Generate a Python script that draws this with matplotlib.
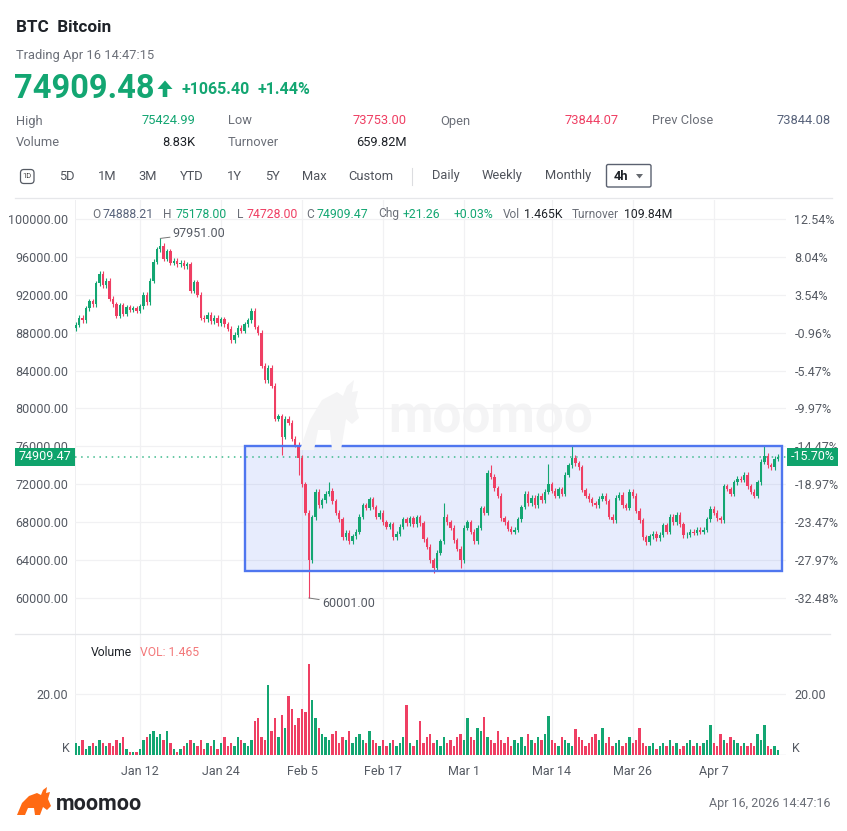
import matplotlib
matplotlib.use('Agg')
import matplotlib.pyplot as plt
import matplotlib.dates as mdates
import matplotlib.ticker as mticker
from matplotlib.patches import Rectangle, FancyBboxPatch, Polygon
from matplotlib.lines import Line2D
import numpy as np
import pandas as pd

plt.rcParams['font.family'] = ['Roboto', 'DejaVu Sans']

# --- datos (velas de 12h, precios en miles de USD) ---
first_open_k = 88.45
closes_k = [
    88.857, 89.6, 89.3, 90.6, 91.3, 91.0, 93.2, 94.2, 93.0, 93.5,
    91.6, 91.0, 89.8, 90.9, 90.0, 90.7, 90.4, 90.6, 90.3, 90.8,
    92.0, 91.2, 93.5, 95.5, 96.8, 97.2, 95.8, 96.6, 95.4, 95.6,
    95.2, 95.4, 95.0, 95.2, 92.4, 93.3, 92.0, 89.6, 89.4, 89.9,
    89.2, 89.6, 89.0, 89.4, 88.9, 88.4, 87.2, 87.8, 88.5, 88.2,
    88.9, 89.3, 90.3, 88.6, 88.0, 84.5, 83.0, 84.3, 82.4, 78.9,
    79.2, 77.0, 78.9, 78.5, 76.8, 76.2, 74.8, 72.0, 69.0, 64.0,
    68.5, 71.2, 69.8, 70.3, 71.0, 71.3, 70.2, 69.0, 68.3, 66.4,
    66.9, 66.0, 66.5, 67.0, 68.6, 69.8, 69.5, 70.4, 69.6, 68.6,
    69.0, 68.0, 67.5, 67.8, 66.4, 66.8, 67.5, 68.3, 67.9, 68.4,
    67.8, 68.5, 67.9, 66.2, 65.4, 64.0, 63.2, 64.8, 66.0, 68.6,
    68.0, 67.4, 66.1, 65.2, 64.0, 67.4, 68.0, 67.0, 66.0, 67.4,
    69.5, 69.0, 73.2, 72.8, 71.6, 70.8, 68.4, 68.0, 67.3, 67.0,
    67.2, 68.3, 69.6, 71.0, 70.0, 70.6, 69.8, 70.8, 70.3, 71.2,
    72.0, 71.3, 70.8, 71.5, 71.0, 73.0, 74.0, 74.8, 74.2, 73.8,
    71.4, 70.8, 70.4, 70.0, 69.8, 70.5, 70.8, 70.2, 68.6, 68.2,
    70.6, 70.9, 69.8, 69.5, 71.2, 70.8, 69.2, 68.2, 66.4, 65.9,
    66.5, 66.8, 66.3, 66.7, 67.7, 67.0, 68.6, 68.0, 68.8, 67.8,
    66.6, 66.7, 67.0, 66.9, 67.2, 67.0, 67.2, 68.3, 69.4, 69.0,
    68.4, 68.2, 71.8, 71.5, 71.0, 72.2, 72.6, 72.5, 73.0, 71.8,
    71.2, 70.8, 72.2, 74.4, 75.0, 74.0, 73.8, 74.7, 74.90947,
]
volumes_k = [
    4, 3, 5, 2, 3, 4, 3, 5, 4, 3,
    4, 3, 5, 4, 6, 2, 1, 1, 1, 2,
    5, 6, 7, 8, 6, 7, 5, 8, 4, 2,
    1, 2, 3, 4, 5, 4, 3, 5, 2, 4,
    3, 5, 2, 4, 6, 3, 4, 3, 6, 5,
    4, 3, 5, 11, 12, 6, 5, 23, 8, 12,
    6, 13, 9, 19.5, 15, 10, 12, 15, 14, 30,
    18, 12, 9, 7, 6, 5, 7, 8, 4, 6,
    5, 8, 4, 6, 7, 5, 4, 8, 5, 4,
    3, 5, 3, 4, 5, 3, 4, 6, 16.5, 4,
    3, 5, 11, 4, 6, 7, 4, 5, 3, 6,
    4, 5, 3, 6, 7, 5, 12, 6, 5, 9,
    8, 12.5, 6, 5, 4, 8, 5, 4, 6, 3,
    5, 4, 6, 3, 7, 5, 4, 6, 5, 7,
    12.8, 5, 4, 3, 6, 5, 4, 3, 8.5, 6,
    5, 3, 4, 6, 7, 5, 9, 4, 6, 3,
    4, 5, 3, 4, 6, 4, 5, 9, 4, 3,
    3, 4, 2, 3, 4, 3, 5, 3, 4, 2,
    3, 4, 5, 3, 4, 3, 4, 5, 10, 4,
    3, 7, 5, 4, 6, 5, 4, 3, 4, 3,
    4, 3, 7, 5, 10, 3, 2, 3, 1.5,
]
high_marks_k = {25: 97.951, 75: 72.2, 109: 70.0, 123: 74.0, 140: 74.1, 147: 76.05, 204: 76.0}
low_marks_k = {61: 75.1, 66: 73.0, 69: 60.001, 106: 62.6, 114: 63.2}
first_time = '2026-01-02 12:00'
last_vol_k = 1.465

price_ticks = [60000, 64000, 68000, 72000, 76000, 80000, 84000, 88000, 92000, 96000, 100000]
date_ticks = ['2026-01-12', '2026-01-24', '2026-02-05', '2026-02-17',
              '2026-03-01', '2026-03-14', '2026-03-26', '2026-04-07']
date_labels = ['Jan 12', 'Jan 24', 'Feb 5', 'Feb 17', 'Mar 1', 'Mar 14', 'Mar 26', 'Apr 7']

# rango marcado (rectángulo azul)
box_start, box_end = '2026-01-27 13:30', '2026-04-17 02:00'
box_low, box_high = 62850, 76040

# cabecera
symbol, name = 'BTC', 'Bitcoin'
trading_time = 'Trading Apr 16 14:47:15'
last_price, change, change_pct = '74909.48', '+1065.40', '+1.44%'
stats_row1 = [('High', '75424.99', 'up'), ('Low', '73753.00', 'down'),
              ('Open', '73844.07', 'down'), ('Prev Close', '73844.08', 'flat')]
stats_row2 = [('Volume', '8.83K', 'dark'), ('Turnover', '659.82M', 'dark')]
periods = ['5D', '1M', '3M', 'YTD', '1Y', '5Y', 'Max', 'Custom']
periods_x = [67, 107, 148, 192, 234, 272, 314, 371]
intervals = ['Daily', 'Weekly', 'Monthly']
intervals_x = [446, 502, 568]
ohlc_info = [('O', '74888.21', 'flat'), ('H', '75178.00', 'up'), ('L', '74728.00', 'down'),
             ('C', '74909.47', 'up'), ('Chg', '+21.26', 'up'), ('', '+0.03%', 'up'),
             ('Vol', '1.465K', 'dark'), ('Turnover', '109.84M', 'dark')]
ohlc_x = [92, 163, 237, 306, 378, 454, 503, 572]
ohlc_val_x = [103, 176, 247, 317, 403, 454, 524, 624]

GREEN = '#13a672'
RED = '#ef3f63'
GRAY = '#6b6f78'
DARK = '#1e2228'
BLUEGRAY = '#57627a'
GRID = '#f1f1f3'
col = {'up': GREEN, 'down': RED, 'flat': BLUEGRAY, 'dark': DARK}

W, H = 847, 831
fig = plt.figure(figsize=(W / 100, H / 100), dpi=100)


def fx(px):
    return px / W


def fy(py):
    return 1 - py / H


def ftext(px, py, s, **kw):
    kw.setdefault('va', 'center')
    return fig.text(fx(px), fy(py), s, **kw)


def fpoly(pts, **kw):
    fig.patches.append(Polygon([(fx(px), fy(py)) for px, py in pts], closed=True,
                               transform=fig.transFigure, **kw))


# --- cabecera ---
ftext(16, 27, f'{symbol}  {name}', fontsize=12.3, weight='bold', color=DARK)
ftext(16, 55, trading_time, fontsize=9.3, color=GRAY)
ftext(14, 89, last_price, fontsize=23.5, weight='bold', color=GREEN)
# flecha de subida
fpoly([(157.5, 89), (165, 80.5), (172.5, 89), (167.3, 89), (167.3, 97), (162.7, 97), (162.7, 89)],
      fc=GREEN, ec='none')
ftext(181, 89, change, fontsize=11.5, weight='bold', color=GREEN)
ftext(257, 89, change_pct, fontsize=11.5, weight='bold', color=GREEN)

lab_x = [16, 228, 440, 652]
val_x = [195, 407, 619, 831]
for (lab, val, k), lx, vx in zip(stats_row1, lab_x, val_x):
    ftext(lx, 121, lab, fontsize=9.3, color=GRAY)
    ftext(vx, 121, val, fontsize=9.3, color=col[k], ha='right')
for (lab, val, k), lx, vx in zip(stats_row2, lab_x, val_x):
    ftext(lx, 142, lab, fontsize=9.3, color=GRAY)
    ftext(vx, 142, val, fontsize=9.3, color=col[k], ha='right')

# barra de periodos
fig.patches.append(FancyBboxPatch((fx(20.5), fy(183.5)), fx(13.5), 14 / H,
                                  boxstyle='round,pad=0,rounding_size=0.004',
                                  transform=fig.transFigure, fc='white', ec='#555a63', lw=0.9))
ftext(27.2, 176.5, '1D', fontsize=5.4, color='#444', ha='center')
for p, px in zip(periods, periods_x):
    ftext(px, 176, p, fontsize=9.3, color='#50545c', ha='center')
fig.add_artist(Line2D([fx(412), fx(412)], [fy(168), fy(185)], color='#dcdde0', lw=0.8))
for p, px in zip(intervals, intervals_x):
    ftext(px, 176, p, fontsize=9.3, color='#50545c', ha='center')
fig.patches.append(FancyBboxPatch((fx(606.5), fy(187)), fx(44.5), 22.5 / H,
                                  boxstyle='round,pad=0,rounding_size=0.002',
                                  transform=fig.transFigure, fc='white', ec='#5b6170', lw=1.0))
ftext(620.5, 176, '4h', fontsize=9.3, weight='bold', color=DARK, ha='center')
fpoly([(636, 174), (643, 174), (639.5, 178.5)], fc='#666a70', ec='none')

fig.add_artist(Line2D([fx(15), fx(832)], [fy(198), fy(198)], color='#e6e7ea', lw=0.9))
fig.add_artist(Line2D([fx(15), fx(830)], [fy(634), fy(634)], color='#e6e7ea', lw=0.9))

# --- datos de velas ---
times = pd.date_range(first_time, periods=len(closes_k), freq='12h')
x = mdates.date2num(times)
c = np.array(closes_k) * 1000
o = np.r_[first_open_k * 1000, c[:-1]]
WICK = 260
hi = np.maximum(o, c) + WICK
lo = np.minimum(o, c) - WICK
for i, v in high_marks_k.items():
    hi[i] = v * 1000
for i, v in low_marks_k.items():
    lo[i] = v * 1000
up = c >= o
colors = np.where(up, GREEN, RED)
base = c[0]

x0 = mdates.date2num(pd.Timestamp('2026-01-02 08:50'))
x1 = mdates.date2num(pd.Timestamp('2026-04-17 16:50'))
xt = mdates.date2num(pd.to_datetime(date_ticks))

ax = fig.add_axes([fx(75), fy(634), fx(786) - fx(75), fy(200) - fy(634)])
vax = fig.add_axes([fx(75), fy(755), fx(786) - fx(75), fy(634) - fy(755)])

for a in (ax, vax):
    a.set_xlim(x0, x1)
    a.set_xticks(xt)
    a.grid(True, color=GRID, lw=0.9)
    a.set_axisbelow(True)
    for s in a.spines.values():
        s.set_visible(False)
    a.tick_params(length=0, labelsize=9, labelcolor='#555a63')
    a.axvline(x0, color='#ececef', lw=1.2, zorder=0)

# panel de precio
ax.set_ylim(56200, 102005)
ax.set_yticks(price_ticks)
ax.yaxis.set_major_formatter(mticker.FormatStrFormatter('%.2f'))
ax.tick_params(axis='y', pad=5)
ax.set_xticklabels([])

ax.vlines(x, lo, hi, colors=colors, lw=0.8, zorder=3)
ax.bar(x, np.maximum(np.abs(c - o), 60), bottom=np.minimum(o, c), width=0.36,
       color=colors, lw=0, zorder=3)

bx0 = mdates.date2num(pd.Timestamp(box_start))
bx1 = mdates.date2num(pd.Timestamp(box_end))
ax.add_patch(Rectangle((bx0, box_low), bx1 - bx0, box_high - box_low,
                       fc=(0.30, 0.45, 0.95, 0.13), ec='none', zorder=1))
ax.add_patch(Rectangle((bx0, box_low), bx1 - bx0, box_high - box_low,
                       fc='none', ec='#4f76ef', lw=1.7, zorder=4))

ax.axhline(c[-1], color='#3dba8c', lw=1.1, ls=(0, (1, 3)), zorder=2)

# marca de agua
ax.text(0.584, 0.497, 'moomoo', transform=ax.transAxes, fontsize=37, weight='bold',
        color='#f4f4f5', ha='center', va='center', zorder=0.5)
wm_bull = [(300, 450), (310, 420), (322, 400), (337, 392), (343, 396), (347, 386), (354, 380),
           (352, 392), (358, 391), (355, 404), (359, 418), (352, 424), (346, 419), (341, 450),
           (332, 450), (330, 430), (318, 430), (314, 450)]
fpoly(wm_bull, fc='#f4f4f5', ec='none', zorder=0.6)

ih = int(np.argmax(hi))
il = int(np.argmin(lo))
ax.annotate(f'{hi[ih]:.2f}', xy=(x[ih], hi[ih]), xytext=(9, 3.5), textcoords='offset points',
            fontsize=9, color='#555a63', va='center', ha='left',
            arrowprops=dict(arrowstyle='-', color='#777', lw=0.7, shrinkA=0, shrinkB=0))
ax.annotate(f'{lo[il]:.2f}', xy=(x[il], lo[il]), xytext=(9.5, -4.3), textcoords='offset points',
            fontsize=9, color='#555a63', va='center', ha='left',
            arrowprops=dict(arrowstyle='-', color='#777', lw=0.7, shrinkA=0, shrinkB=0))

ax2 = ax.twinx()
ax2.set_ylim(ax.get_ylim())
ax2.set_yticks(price_ticks)
ax2.set_yticklabels([f'{(p / base - 1) * 100:.2f}%' for p in price_ticks])
ax2.tick_params(length=0, labelsize=9, labelcolor='#555a63', pad=6)
for s in ax2.spines.values():
    s.set_visible(False)

# etiquetas del precio actual
yp = 219 + (100000 - c[-1]) / 1000 * 9.475
fig.patches.append(Rectangle((fx(15), fy(466)), fx(60), 18 / H, transform=fig.transFigure,
                             fc='#0fa36c', ec='none', zorder=5))
ftext(45, yp, f'{c[-1]:.2f}', fontsize=9, color='white', ha='center', zorder=6)
fig.patches.append(Rectangle((fx(787), fy(466)), fx(51), 18 / H, transform=fig.transFigure,
                             fc='#0fa36c', ec='none', zorder=5))
ftext(812.5, yp, f'{(c[-1] / base - 1) * 100:.2f}%', fontsize=9, color='white', ha='center', zorder=6)

# linea OHLC
for (lab, val, k), px, vx in zip(ohlc_info, ohlc_x, ohlc_val_x):
    if lab:
        ftext(px, 214, lab, fontsize=8.6, color=GRAY)
    ftext(vx, 214, val, fontsize=8.8, color=col[k])

# panel de volumen
vax.set_ylim(0, 39.7)
vax.set_yticks([20])
vax.set_yticklabels(['20.00'])
vax.tick_params(axis='y', pad=5)
vax.set_xticklabels(date_labels)
vax.tick_params(axis='x', pad=7)
vax.bar(x, volumes_k, width=0.36, color=colors, lw=0, zorder=3)
vax.axhline(0, color='#e3e4e7', lw=1.0, zorder=2)
vax2 = vax.twinx()
vax2.set_ylim(vax.get_ylim())
vax2.set_yticks([20])
vax2.set_yticklabels(['20.00'])
vax2.tick_params(length=0, labelsize=9, labelcolor='#555a63', pad=6)
for s in vax2.spines.values():
    s.set_visible(False)
ftext(70, 748, 'K', fontsize=9, color='#555a63', ha='right')
ftext(792, 748, 'K', fontsize=9, color='#555a63', ha='left')
ftext(91, 652, 'Volume', fontsize=8.7, color=DARK)
ftext(140, 652, f'VOL: {last_vol_k:.3f}', fontsize=8.7, color='#f3787a')

# pie: logo y fecha
bull = [(17, 815), (22, 803), (29, 796), (37, 793), (41, 795), (43, 790), (47, 787), (46, 793),
        (50, 792), (48, 799), (51, 806), (47, 810), (43, 807), (40, 815), (35, 815), (34, 808),
        (28, 808), (25, 815)]
fpoly(bull, fc='#ff6a13', ec='none')
ftext(56, 804, 'moomoo', fontsize=15.5, weight='bold', color='#23252a')
ftext(830, 804, 'Apr 16, 2026 14:47:16', fontsize=9, color=GRAY, ha='right')

fig.savefig('out.png', dpi=100)
